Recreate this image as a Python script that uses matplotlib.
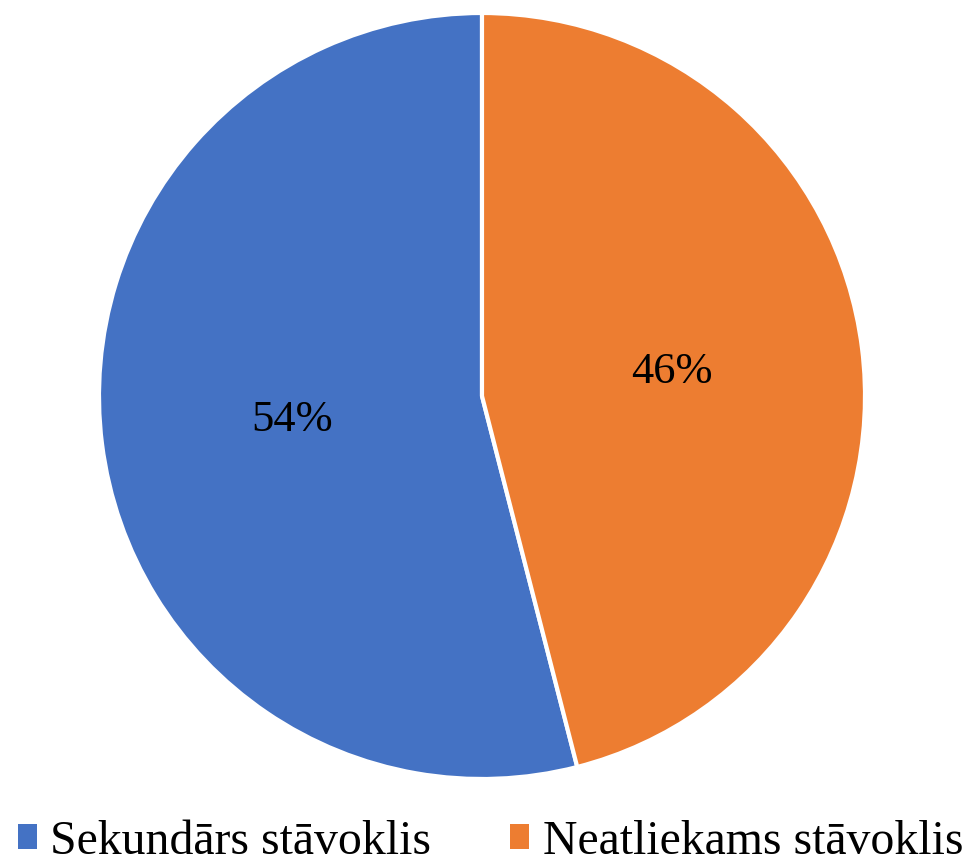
import matplotlib
matplotlib.use("Agg")
import matplotlib.pyplot as plt
from matplotlib.patches import Patch

categories = ["Sekundārs stāvoklis", "Neatliekams stāvoklis"]
shares = [54, 46]
colors = ["#4472C4", "#ED7D31"]

plt.rcParams['font.family'] = ['Liberation Serif', 'DejaVu Serif']

fig = plt.figure(figsize=(9.7, 8.64), dpi=100)
# pie centre (482, 396) px, radius 383 px
ax = fig.add_axes([99 / 970, 85 / 864, 766 / 970, 766 / 864])

wedges, texts, autotexts = ax.pie(
    shares, colors=colors, startangle=90, counterclock=True,
    autopct='%d%%', pctdistance=0.5,
    wedgeprops=dict(edgecolor='white', linewidth=3),
    textprops=dict(fontsize=32, color='black'))
ax.set_xlim(-1, 1)
ax.set_ylim(-1, 1)
ax.set_aspect('equal')

handles = [Patch(facecolor=c, edgecolor='none') for c in colors]
fig.legend(handles, categories, loc='lower left',
           bbox_to_anchor=(18 / 970, 0.5 / 864), ncol=2,
           frameon=False, fontsize=34.4, borderpad=0, borderaxespad=0,
           handlelength=0.4, handleheight=0.45, handletextpad=0.28,
           columnspacing=1.65)

fig.savefig("out.png", dpi=100)
